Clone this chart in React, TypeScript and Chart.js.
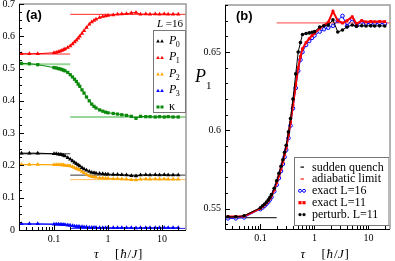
import React, { useEffect, useRef } from "react";
import { Chart, registerables } from "chart.js";
Chart.register(...registerables);

const SERIF = "'Liberation Serif', 'Times New Roman', serif";
const SANS = "'Liberation Sans', Arial, sans-serif";

// ---------- data ----------
const tau = [0.025, 0.035, 0.05, 0.1, 0.11, 0.12, 0.13, 0.14, 0.15, 0.16, 0.18, 0.2, 0.22, 0.24, 0.26, 0.28, 0.3, 0.33, 0.36, 0.4, 0.45, 0.5, 0.55, 0.6, 0.7, 0.8, 0.9, 1.0, 1.25, 1.5, 1.8, 2.2, 2.7, 3.3, 4, 5, 6, 7.5, 9, 11, 13, 16, 20];

// panel (a)
const P0 = [0.238, 0.238, 0.238, 0.236, 0.236, 0.235, 0.234, 0.233, 0.231, 0.229, 0.224, 0.219, 0.214, 0.209, 0.205, 0.201, 0.198, 0.193, 0.189, 0.185, 0.181, 0.178, 0.177, 0.176, 0.175, 0.174, 0.173, 0.173, 0.172, 0.172, 0.171, 0.170, 0.168, 0.167, 0.170, 0.171, 0.170, 0.171, 0.170, 0.171, 0.170, 0.170, 0.170];
const P1 = [0.546, 0.546, 0.546, 0.549, 0.550, 0.552, 0.554, 0.556, 0.558, 0.561, 0.565, 0.570, 0.576, 0.582, 0.588, 0.594, 0.600, 0.609, 0.617, 0.627, 0.637, 0.644, 0.649, 0.653, 0.658, 0.661, 0.663, 0.664, 0.666, 0.668, 0.669, 0.670, 0.672, 0.674, 0.668, 0.669, 0.668, 0.669, 0.668, 0.669, 0.668, 0.668, 0.668];
const P2 = [0.203, 0.203, 0.203, 0.202, 0.202, 0.202, 0.202, 0.201, 0.201, 0.200, 0.199, 0.198, 0.196, 0.193, 0.190, 0.188, 0.186, 0.181, 0.177, 0.172, 0.168, 0.165, 0.164, 0.163, 0.161, 0.161, 0.160, 0.160, 0.159, 0.159, 0.158, 0.157, 0.156, 0.155, 0.157, 0.158, 0.157, 0.158, 0.157, 0.158, 0.157, 0.157, 0.157];
const P3 = [0.019, 0.019, 0.019, 0.018, 0.018, 0.018, 0.017, 0.017, 0.016, 0.016, 0.015, 0.014, 0.013, 0.012, 0.011, 0.011, 0.010, 0.010, 0.009, 0.009, 0.008, 0.008, 0.008, 0.008, 0.007, 0.007, 0.007, 0.007, 0.007, 0.007, 0.007, 0.007, 0.007, 0.006, 0.007, 0.007, 0.007, 0.007, 0.007, 0.007, 0.007, 0.007, 0.007];
const kappa = [0.516, 0.515, 0.512, 0.503, 0.502, 0.500, 0.499, 0.497, 0.495, 0.493, 0.488, 0.481, 0.474, 0.467, 0.460, 0.452, 0.445, 0.434, 0.424, 0.412, 0.400, 0.390, 0.383, 0.378, 0.372, 0.368, 0.365, 0.363, 0.361, 0.359, 0.357, 0.355, 0.352, 0.346, 0.352, 0.351, 0.351, 0.350, 0.351, 0.350, 0.351, 0.350, 0.350];
// sudden-quench (left) and adiabatic (right) limits: P0, P1, P2, P3, kappa
const suddenA = [0.236, 0.545, 0.202, 0.018, 0.513];
const adiabaticA = [0.170, 0.668, 0.156, 0.005, 0.350];

// panel (b)
const exactL16 = [0.5438, 0.5438, 0.5444, 0.5497, 0.5508, 0.5519, 0.5531, 0.5544, 0.5558, 0.5574, 0.5610, 0.5652, 0.5695, 0.5740, 0.5785, 0.5830, 0.5875, 0.5950, 0.6030, 0.6140, 0.6270, 0.6380, 0.6450, 0.6500, 0.6545, 0.6570, 0.6590, 0.6605, 0.6630, 0.6645, 0.6655, 0.6667, 0.6700, 0.6730, 0.6665, 0.6710, 0.6668, 0.6694, 0.6678, 0.6686, 0.6680, 0.6683, 0.6680];
const exactL11 = [0.5450, 0.5450, 0.5452, 0.5502, 0.5513, 0.5525, 0.5537, 0.5550, 0.5565, 0.5582, 0.5620, 0.5665, 0.5710, 0.5755, 0.5800, 0.5845, 0.5890, 0.5970, 0.6050, 0.6160, 0.6290, 0.6400, 0.6470, 0.6520, 0.6560, 0.6585, 0.6605, 0.6620, 0.6650, 0.6670, 0.6690, 0.6760, 0.6700, 0.6685, 0.6700, 0.6725, 0.6680, 0.6700, 0.6692, 0.6695, 0.6693, 0.6695, 0.6694];
const perturbL11 = [0.5448, 0.5448, 0.5455, 0.5506, 0.5518, 0.5530, 0.5542, 0.5556, 0.5572, 0.5590, 0.5630, 0.5678, 0.5725, 0.5770, 0.5812, 0.5860, 0.5905, 0.5990, 0.6075, 0.6200, 0.6360, 0.6500, 0.6560, 0.6612, 0.6618, 0.6622, 0.6626, 0.6630, 0.6660, 0.6668, 0.6672, 0.6705, 0.6628, 0.6640, 0.6660, 0.6672, 0.6665, 0.6668, 0.6666, 0.6667, 0.6666, 0.6667, 0.6666];
const suddenB = 0.5443;
const adiabaticB = 0.6686;

const tauSwitch = 0.2;
const xRangeA = [0.0225, 27.8];
const yRangeA = [0, 0.7];
const xRangeB = [0.0221, 25];
const yRangeB = [0.537, 0.68];
const xTickLabels = [0.1, 1, 10];
const yTickLabelsA = [0, 0.1, 0.2, 0.3, 0.4, 0.5, 0.6, 0.7];
const yTickLabelsB = [0.55, 0.6, 0.65];

const seriesNamesA = ["0", "1", "2", "3", "κ"];
const seriesColorsA = ["#000000", "#ff0000", "#ffa500", "#0000ff", "#0a8a0a"];
const refColorsA = ["#333333", "#ff2a2a", "#ffbb55", "#2020ff", "#99d699"];

const legendNamesB = ["sudden quench", "adiabatic limit", "exact L=16", "exact L=11", "perturb. L=11"];

// ---------- helpers ----------
const pts = (xs: number[], ys: number[]) => xs.map((x, i) => ({ x, y: ys[i] }));

function tri(ctx: CanvasRenderingContext2D, x: number, y: number, r: number, c: string) {
  ctx.fillStyle = c;
  ctx.beginPath();
  ctx.moveTo(x, y - r);
  ctx.lineTo(x + r, y + r * 0.8);
  ctx.lineTo(x - r, y + r * 0.8);
  ctx.closePath();
  ctx.fill();
}
function sq(ctx: CanvasRenderingContext2D, x: number, y: number, r: number, c: string) {
  ctx.fillStyle = c;
  ctx.fillRect(x - r, y - r, 2 * r, 2 * r);
}
function circ(ctx: CanvasRenderingContext2D, x: number, y: number, r: number, c: string, open: boolean) {
  ctx.beginPath();
  ctx.arc(x, y, r, 0, Math.PI * 2);
  if (open) {
    ctx.strokeStyle = c;
    ctx.lineWidth = 1;
    ctx.stroke();
  } else {
    ctx.fillStyle = c;
    ctx.fill();
  }
}

function drawFrameAndTicks(chart: any, yMinor: number[], yMajor: number[]) {
  const { ctx, chartArea: a, scales } = chart;
  const xs = scales.x, ys = scales.y;
  ctx.save();
  ctx.strokeStyle = "#9a9a9a";
  ctx.lineWidth = 1.5;
  ctx.beginPath();
  ctx.moveTo(a.left, a.top);
  ctx.lineTo(a.right, a.top);
  ctx.lineTo(a.right, a.bottom);
  ctx.stroke();
  ctx.strokeStyle = "#000";
  ctx.lineWidth = 1;
  ctx.beginPath();
  ctx.moveTo(a.left + 0.5, a.top);
  ctx.lineTo(a.left + 0.5, a.bottom + 0.5);
  ctx.lineTo(a.right, a.bottom + 0.5);
  ctx.stroke();
  ctx.beginPath();
  for (let n = -2; n <= 1; n++) {
    for (let k = 1; k <= 9; k++) {
      const v = k * Math.pow(10, n);
      if (v < xs.min || v > xs.max) continue;
      const px = Math.round(xs.getPixelForValue(v)) + 0.5;
      const len = k === 1 ? 5 : 3;
      ctx.moveTo(px, a.bottom);
      ctx.lineTo(px, a.bottom - len);
    }
  }
  for (const v of yMinor) {
    const py = Math.round(ys.getPixelForValue(v)) + 0.5;
    const major = yMajor.some((m) => Math.abs(m - v) < 1e-9);
    ctx.moveTo(a.left, py);
    ctx.lineTo(a.left + (major ? 5 : 3), py);
  }
  ctx.stroke();

  // x title: tau [hbar/J]
  const x1 = xs.getPixelForValue(1);
  const by = 258;
  ctx.fillStyle = "#000";
  ctx.textBaseline = "alphabetic";
  ctx.textAlign = "left";
  ctx.font = `italic 13px ${SERIF}`;
  ctx.fillText("τ", x1 - 14, by);
  let cx = x1 + 7;
  const parts: [string, boolean][] = [["[", false], ["ħ", true], ["/", false], ["J", true], ["]", false]];
  for (const [t, it] of parts) {
    ctx.font = `${it ? "italic " : ""}13px ${SERIF}`;
    ctx.fillText(t, cx, by);
    cx += ctx.measureText(t).width + (t === "/" ? 0.5 : 0.8);
  }
  ctx.restore();
}

const minorA: number[] = [];
for (let i = 0; i <= 28; i++) minorA.push(i * 0.025);
const minorB: number[] = [];
for (let i = 54; i <= 68; i++) minorB.push(i / 100);

const decorA = {
  id: "decorA",
  afterDraw(chart: any) {
    drawFrameAndTicks(chart, minorA, yTickLabelsA);
    const { ctx, chartArea: a } = chart;
    ctx.save();
    ctx.fillStyle = "#000";
    ctx.font = `bold 13px ${SANS}`;
    ctx.fillText("(a)", a.left + 7, a.top + 15);
    // L = 16
    ctx.font = `italic 11px ${SERIF}`;
    ctx.fillText("L", a.right - 29, a.top + 23);
    const lw = ctx.measureText("L").width;
    ctx.font = `11px ${SERIF}`;
    ctx.fillText(" =16", a.right - 29 + lw, a.top + 23);
    // legend box
    const bx = a.right - 33, bt = a.top + 26, bb = a.top + 108;
    ctx.fillStyle = "#fff";
    ctx.fillRect(bx, bt, a.right - bx, bb - bt);
    ctx.strokeStyle = "#777";
    ctx.lineWidth = 1;
    ctx.strokeRect(bx + 0.5, bt + 0.5, a.right - bx - 1, bb - bt);
    for (let i = 0; i < 5; i++) {
      const y = bt + 11 + i * 16.5;
      const c = seriesColorsA[i];
      if (i < 4) {
        tri(ctx, bx + 5, y, 1.8, c);
        tri(ctx, bx + 9, y, 1.8, c);
        ctx.fillStyle = "#000";
        ctx.font = `italic 12px ${SERIF}`;
        ctx.fillText("P", bx + 16, y + 2.5);
        const pw = ctx.measureText("P").width;
        ctx.font = `8px ${SERIF}`;
        ctx.fillText(seriesNamesA[i], bx + 16 + pw - 0.5, y + 5.5);
      } else {
        sq(ctx, bx + 5, y, 1.5, c);
        sq(ctx, bx + 9, y, 1.5, c);
        ctx.fillStyle = "#000";
        ctx.font = `12px ${SERIF}`;
        ctx.fillText(seriesNamesA[i], bx + 16, y + 3);
      }
    }
    ctx.restore();
  },
};

const decorB = {
  id: "decorB",
  afterDraw(chart: any) {
    drawFrameAndTicks(chart, minorB, yTickLabelsB);
    const { ctx, chartArea: a } = chart;
    ctx.save();
    ctx.fillStyle = "#000";
    ctx.font = `bold 13px ${SANS}`;
    ctx.fillText("(b)", a.left + 11, a.top + 15);
    // y label P1
    ctx.font = `italic 18px ${SERIF}`;
    ctx.fillText("P", 5, 82);
    ctx.font = `11px ${SERIF}`;
    ctx.fillText("1", 16, 89);
    // legend
    const bx = a.right - 96, bt = 157, bb = 225;
    ctx.fillStyle = "#fff";
    ctx.fillRect(bx, bt, a.right - bx, bb - bt);
    ctx.strokeStyle = "#777";
    ctx.lineWidth = 1;
    ctx.strokeRect(bx + 0.5, bt + 0.5, a.right - bx - 1.5, bb - bt);
    const mx = bx + 8;
    for (let i = 0; i < 5; i++) {
      const y = 167 + i * 11.9;
      if (i === 0 || i === 1) {
        ctx.fillStyle = i === 0 ? "#000" : "#ff2020";
        ctx.fillRect(mx - 1.5, y - 0.5, 3.5, 1.2);
      } else if (i === 2) {
        circ(ctx, mx - 2, y, 1.5, "#0000ff", true);
        circ(ctx, mx + 2, y, 1.5, "#0000ff", true);
      } else if (i === 3) {
        sq(ctx, mx - 2, y, 1.6, "#ff0000");
        sq(ctx, mx + 2, y, 1.6, "#ff0000");
      } else {
        circ(ctx, mx - 2, y, 1.6, "#000", false);
        circ(ctx, mx + 2, y, 1.6, "#000", false);
      }
      ctx.fillStyle = "#000";
      ctx.font = `12px ${SERIF}`;
      ctx.fillText(legendNamesB[i], bx + 18, y + 3.5);
    }
    ctx.restore();
  },
};

function xScale(range: number[], h: number) {
  return {
    type: "logarithmic" as const,
    position: "bottom" as const,
    min: range[0],
    max: range[1],
    afterBuildTicks: (s: any) => {
      s.ticks = xTickLabels.map((v) => ({ value: v }));
    },
    afterFit: (s: any) => {
      s.height = h;
      s.paddingLeft = 0;
      s.paddingRight = 0;
    },
    grid: { display: false, drawTicks: false },
    border: { display: false },
    ticks: {
      autoSkip: false,
      maxRotation: 0,
      padding: 3,
      color: "#000",
      font: { family: SERIF, size: 10 },
      callback: (v: any) => String(v),
    },
  };
}

function yScale(range: number[], labels: number[], w: number, fmt: (v: number) => string) {
  return {
    type: "linear" as const,
    min: range[0],
    max: range[1],
    afterBuildTicks: (s: any) => {
      s.ticks = labels.map((v) => ({ value: v }));
    },
    afterFit: (s: any) => {
      s.width = w;
      s.paddingTop = 0;
      s.paddingBottom = 0;
    },
    grid: { display: false, drawTicks: false },
    border: { display: false },
    ticks: {
      autoSkip: false,
      padding: 4,
      color: "#000",
      font: { family: SERIF, size: 10 },
      callback: (v: any) => fmt(Number(v)),
    },
  };
}

function refSeg(x0: number, x1: number, v: number, color: string, w: number) {
  return {
    data: [{ x: x0, y: v }, { x: x1, y: v }],
    borderColor: color,
    borderWidth: w,
    pointRadius: 0,
    order: 10,
  };
}

function configA(): any {
  const series = [P0, P1, P2, P3, kappa];
  const datasets: any[] = [];
  series.forEach((arr, i) => {
    const c = seriesColorsA[i];
    datasets.push({
      label: seriesNamesA[i],
      data: pts(tau, arr),
      borderColor: c,
      borderWidth: 1,
      pointStyle: i === 4 ? "rect" : "triangle",
      pointRadius: i === 4 ? 2.3 : 2.5,
      pointBackgroundColor: c,
      pointBorderColor: c,
      pointBorderWidth: 0,
      order: 1,
    });
    const lw = i === 4 ? 2 : 1;
    datasets.push(refSeg(xRangeA[0], tauSwitch, suddenA[i], refColorsA[i], lw));
    datasets.push(refSeg(tauSwitch, xRangeA[1], adiabaticA[i], refColorsA[i], lw));
  });
  return {
    type: "line",
    data: { datasets },
    options: {
      responsive: false,
      animation: false,
      layout: { padding: { top: 4, right: 4, left: 0, bottom: 0 } },
      plugins: { legend: { display: false }, tooltip: { enabled: false } },
      scales: {
        x: xScale(xRangeA, 31),
        y: yScale(yRangeA, yTickLabelsA, 19, (v) => (v === 0 ? "0" : v.toFixed(1))),
      },
    },
    plugins: [decorA],
  };
}

function configB(): any {
  const datasets: any[] = [
    {
      label: legendNamesB[4],
      data: pts(tau, perturbL11),
      borderColor: "#000",
      borderWidth: 1,
      pointStyle: "circle",
      pointRadius: 1.8,
      pointBackgroundColor: "#000",
      pointBorderWidth: 0,
      order: 0,
    },
    {
      label: legendNamesB[3],
      data: pts(tau, exactL11),
      borderColor: "#ff0000",
      borderWidth: 2,
      pointStyle: "rect",
      pointRadius: 2,
      pointBackgroundColor: "#ff0000",
      pointBorderWidth: 0,
      order: 1,
    },
    {
      label: legendNamesB[2],
      data: pts(tau, exactL16),
      borderColor: "#0000ff",
      borderWidth: 1,
      pointStyle: "circle",
      pointRadius: 1.8,
      pointBackgroundColor: "rgba(255,255,255,0.7)",
      pointBorderColor: "#0000ff",
      pointBorderWidth: 1,
      order: 2,
    },
    refSeg(xRangeB[0], tauSwitch, suddenB, "#333333", 1.2),
    refSeg(tauSwitch, xRangeB[1], adiabaticB, "#ff6a6a", 1.2),
  ];
  return {
    type: "line",
    data: { datasets },
    options: {
      responsive: false,
      animation: false,
      layout: { padding: { top: 4, right: 2, left: 0, bottom: 0 } },
      plugins: { legend: { display: false }, tooltip: { enabled: false } },
      scales: {
        x: xScale(xRangeB, 32),
        y: yScale(yRangeB, yTickLabelsB, 35, (v) => String(v)),
      },
    },
    plugins: [decorB],
  };
}

function Panel({ build, left, width }: { build: () => any; left: number; width: number }) {
  const ref = useRef<HTMLCanvasElement>(null);
  useEffect(() => {
    const chart = new Chart(ref.current as HTMLCanvasElement, build());
    return () => chart.destroy();
  }, []);
  return (
    <canvas
      ref={ref}
      width={width}
      height={261}
      style={{ position: "absolute", left, top: 0, width, height: 261, display: "block" }}
    />
  );
}

export default function App() {
  return (
    <div style={{ position: "absolute", left: 0, top: 0, width: 395, height: 261, background: "#fff", overflow: "hidden" }}>
      <Panel build={configA} left={0} width={190} />
      <Panel build={configB} left={190} width={205} />
    </div>
  );
}
